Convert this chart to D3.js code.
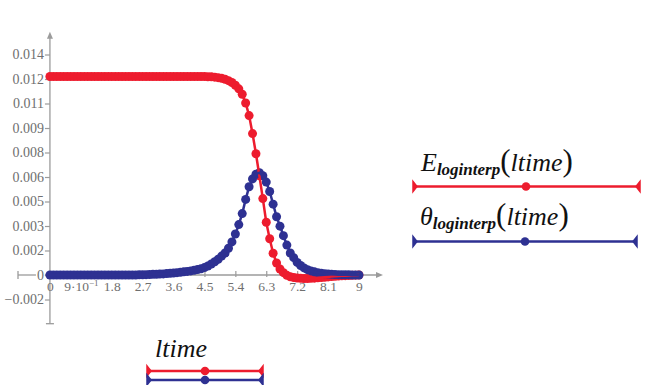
<!DOCTYPE html>
<html>
<head>
<meta charset="utf-8">
<script src="https://cdn.jsdelivr.net/npm/d3@7"></script>
</head>
<body style="margin:0;background:#fff">
<svg id="chart" width="665" height="385" style="display:block"></svg>
<script>
// data
const ltime = [
  0, 0.1, 0.2, 0.3, 0.4, 0.5, 0.6, 0.7, 0.8, 0.9,
  1, 1.1, 1.2, 1.3, 1.4, 1.5, 1.6, 1.7, 1.8, 1.9,
  2, 2.1, 2.2, 2.3, 2.4, 2.5, 2.6, 2.7, 2.8, 2.9,
  3, 3.1, 3.2, 3.3, 3.4, 3.5, 3.6, 3.7, 3.8, 3.9,
  4, 4.1, 4.2, 4.3, 4.4, 4.5, 4.6, 4.7, 4.8, 4.9,
  5, 5.1, 5.2, 5.3, 5.4, 5.5, 5.6, 5.7, 5.8, 5.9,
  6, 6.1, 6.2, 6.3, 6.4, 6.5, 6.6, 6.7, 6.8, 6.9,
  7, 7.1, 7.2, 7.3, 7.4, 7.5, 7.6, 7.7, 7.8, 7.9,
  8, 8.1, 8.2, 8.3, 8.4, 8.5, 8.6, 8.7, 8.8, 8.9,
  9
];

const eLoginterp = [
  0.0126, 0.0126, 0.0126, 0.0126, 0.0126, 0.0126, 0.0126, 0.0126, 0.0126, 0.0126,
  0.0126, 0.0126, 0.0126, 0.0126, 0.0126, 0.0126, 0.0126, 0.0126, 0.0126, 0.0126,
  0.0126, 0.0126, 0.0126, 0.0126, 0.0126, 0.0126, 0.0126, 0.0126, 0.0126, 0.0126,
  0.0126, 0.0126, 0.0126, 0.0126, 0.0126, 0.0126, 0.0126, 0.0126, 0.0126, 0.0126,
  0.0126, 0.0126, 0.0126, 0.0126, 0.0126, 0.0126, 0.01259, 0.01258, 0.01256, 0.01253,
  0.01249, 0.01243, 0.01234, 0.01222, 0.01205, 0.01182, 0.01148, 0.01092, 0.01012, 0.00898,
  0.0077, 0.0063, 0.00485, 0.00335, 0.0023, 0.00138, 0.00076, 0.00038, 0.00015, -0.00002,
  -0.00011, -0.00016, -0.00019, -0.00021, -0.00022, -0.00022, -0.00021, -0.0002, -0.00018, -0.00016,
  -0.00014, -0.00012, -0.0001, -0.00008, -0.00006, -0.00005, -0.00004, -0.00003, -0.00002, -0.00001,
  0
];

const thetaLoginterp = [
  0, 0, 0, 0, 0, 0, 0, 0, 0, 0,
  0, 0, 0, 0, 0, 0, 0, 0, 0, 0,
  0, 0, 0, 0, 0, 0, 0.00001, 0.00001, 0.00002, 0.00003,
  0.00004, 0.00005, 0.00006, 0.00007, 0.00009, 0.00011, 0.00013, 0.00015, 0.00017, 0.0002,
  0.00023, 0.00026, 0.0003, 0.00035, 0.0004, 0.00047, 0.00057, 0.0007, 0.00084, 0.001,
  0.0012, 0.0014, 0.0017, 0.0021, 0.0026, 0.0032, 0.0039, 0.0048, 0.0056, 0.0061,
  0.0064, 0.0065, 0.0063, 0.0059, 0.0053, 0.0045, 0.0037, 0.0031, 0.0025, 0.0019,
  0.0014, 0.0011, 0.0008, 0.0006, 0.00045, 0.00034, 0.00026, 0.0002, 0.00015, 0.00011,
  0.00008, 0.00006, 0.00004, 0.00003, 0.00002, 0.00002, 0.00001, 0.00001, 0, 0,
  0
];

const xTickValues = [0, 0.9, 1.8, 2.7, 3.6, 4.5, 5.4, 6.3, 7.2, 8.1, 9];
const xTickLabels = ["0", "9·10^−1", "1.8", "2.7", "3.6", "4.5", "5.4", "6.3", "7.2", "8.1", "9"];
const yTickValues = [-0.001556, 0, 0.001556, 0.003111, 0.004667, 0.006222, 0.007778, 0.009333, 0.010889, 0.012444, 0.014];
const yTickLabels = ["−0.002", "0", "0.002", "0.003", "0.005", "0.006", "0.008", "0.009", "0.011", "0.012", "0.014"];

const red = "#ed1c2e";
const blue = "#2e3192";
const axisGray = "#9b9b9b";
const labelGray = "#6f6f6f";
const serif = "Liberation Serif";

const svg = d3.select("#chart");

const x = d3.scaleLinear().domain([-0.93, 9.7]).range([18, 383]);
const y = d3.scaleLinear().domain([-0.003092, 0.015448]).range([323.7, 31.7]);
const x0 = x(0), y0 = y(0);

// axis lines with arrow at the positive end, bar at the negative end
const axes = svg.append("g").attr("stroke", axisGray).attr("fill", axisGray);
axes.append("line").attr("x1", x0).attr("x2", x0)
  .attr("y1", y.range()[0]).attr("y2", y.range()[1] + 6).attr("stroke-width", 1.3);
axes.append("path")
  .attr("d", `M${x0},${y.range()[1]} L${x0 - 3},${y.range()[1] + 7} L${x0 + 3},${y.range()[1] + 7} Z`)
  .attr("stroke", "none");
axes.append("line").attr("x1", x0 - 4).attr("x2", x0 + 4)
  .attr("y1", y.range()[0]).attr("y2", y.range()[0]).attr("stroke-width", 1.3);

// x axis line is broken where the y label "0" sits
axes.append("line").attr("x1", x.range()[0]).attr("x2", x0 - 14)
  .attr("y1", y0).attr("y2", y0).attr("stroke-width", 1.3);
axes.append("line").attr("x1", x0 - 5).attr("x2", x.range()[1] - 6)
  .attr("y1", y0).attr("y2", y0).attr("stroke-width", 1.3);
axes.append("path")
  .attr("d", `M${x.range()[1]},${y0} L${x.range()[1] - 7},${y0 - 3} L${x.range()[1] - 7},${y0 + 3} Z`)
  .attr("stroke", "none");
axes.append("line").attr("x1", x.range()[0]).attr("x2", x.range()[0])
  .attr("y1", y0 - 4).attr("y2", y0 + 4).attr("stroke-width", 1.3);

// y ticks
const yAxis = svg.append("g")
  .attr("transform", `translate(${x0},0)`)
  .call(d3.axisLeft(y).tickValues(yTickValues)
    .tickFormat((d, i) => yTickLabels[i]).tickSize(5).tickPadding(1));
yAxis.attr("font-family", serif).attr("font-size", 14);
yAxis.select(".domain").remove();
yAxis.selectAll(".tick line").attr("stroke", axisGray).attr("stroke-width", 1.2);
yAxis.selectAll(".tick text").attr("fill", labelGray);

// x ticks
const xAxis = svg.append("g")
  .attr("transform", `translate(0,${y0})`)
  .call(d3.axisBottom(x).tickValues(xTickValues)
    .tickFormat((d, i) => xTickLabels[i]).tickSize(2));
xAxis.attr("font-family", serif).attr("font-size", 13.5);
xAxis.select(".domain").remove();
xAxis.selectAll(".tick line").attr("y1", -4).attr("stroke", axisGray).attr("stroke-width", 1.2);
xAxis.selectAll(".tick text").attr("y", 6).attr("fill", labelGray)
  .each(function (d, i) {
    const lab = xTickLabels[i];
    if (lab.includes("^")) {
      const [base, exp] = lab.split("^");
      const t = d3.select(this).text(null);
      t.append("tspan").text(base);
      t.append("tspan").attr("dy", -5).attr("font-size", 9).text(exp);
    }
  });

// traces
const pts = (vals) => ltime.map((t, i) => [t, vals[i]]);
const line = d3.line().x(d => x(d[0])).y(d => y(d[1]));
const traces = [
  { vals: eLoginterp, color: red },
  { vals: thetaLoginterp, color: blue }
];

const plot = svg.append("g");
traces.forEach(tr => {
  plot.append("g").selectAll("circle")
    .data(pts(tr.vals))
    .join("circle")
    .attr("cx", d => x(d[0]))
    .attr("cy", d => y(d[1]))
    .attr("r", 4.5)
    .attr("fill", tr.color);
});
traces.forEach(tr => {
  plot.append("path")
    .attr("d", line(pts(tr.vals)))
    .attr("fill", "none")
    .attr("stroke", tr.color)
    .attr("stroke-width", 2.5);
});

// legends
const legend = svg.append("g").attr("font-family", serif).attr("fill", "#111");

function legendLine(x1, x2, yy, color, dotX) {
  const g = legend.append("g");
  g.append("line").attr("x1", x1).attr("x2", x2).attr("y1", yy).attr("y2", yy)
    .attr("stroke", color).attr("stroke-width", 2.5);
  g.append("path").attr("d", `M${x1},${yy - 5} L${x1},${yy + 5} L${x1 + 4},${yy} Z`)
    .attr("fill", color).attr("stroke", color).attr("stroke-width", 1.5);
  g.append("path").attr("d", `M${x2},${yy - 5} L${x2},${yy + 5} L${x2 - 4},${yy} Z`)
    .attr("fill", color).attr("stroke", color).attr("stroke-width", 1.5);
  g.append("circle").attr("cx", dotX).attr("cy", yy).attr("r", 4.3).attr("fill", color);
}

function legendLabel(xx, yy, sym) {
  const t = legend.append("text").attr("x", xx).attr("y", yy)
    .attr("font-family", serif).attr("font-size", 26).attr("font-style", "italic");
  t.append("tspan").text(sym);
  t.append("tspan").attr("font-size", 17).attr("font-weight", "bold").attr("dy", 4).text("loginterp");
  t.append("tspan").attr("font-size", 31).attr("font-style", "normal").attr("dy", -4).text("(");
  t.append("tspan").text("ltime");
  t.append("tspan").attr("font-size", 31).attr("font-style", "normal").text(")");
}

legendLabel(421, 171, "E");
legendLine(413, 640, 186.5, red, 526);
legendLabel(420, 225, "θ");
legendLine(413, 637, 241.5, blue, 525);

legend.append("text").attr("x", 155).attr("y", 357)
  .attr("font-family", serif).attr("font-size", 26).attr("font-style", "italic").text("ltime");
legendLine(147, 263, 371, red, 205);
legendLine(147, 263, 380, blue, 205);
</script>
</body>
</html>
